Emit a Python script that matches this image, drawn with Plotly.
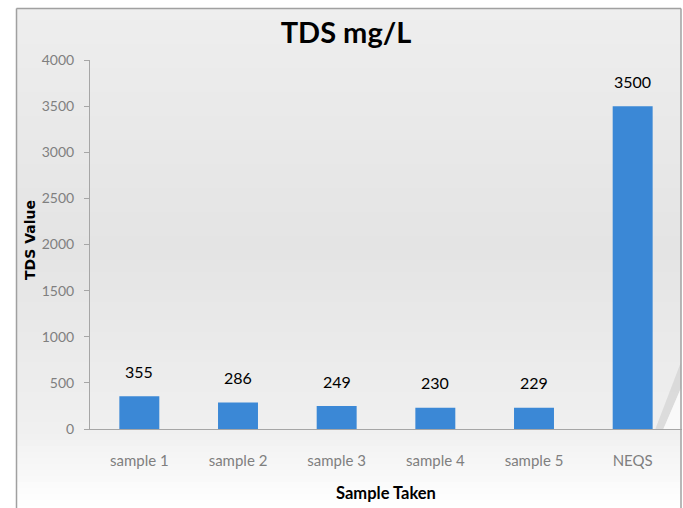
import plotly.graph_objects as go

categories = ["sample 1", "sample 2", "sample 3", "sample 4", "sample 5", "NEQS"]
tds_values = [355, 286, 249, 230, 229, 3500]
y_ticks = [0, 500, 1000, 1500, 2000, 2500, 3000, 3500, 4000]

W, H = 683, 508


def px(x):
    return x / W


def py(y):
    return 1 - y / H


def lerp(c1, c2, t):
    return tuple(int(round(a + (b - a) * t)) for a, b in zip(c1, c2))


# background gradient (vertical bands)
stops = [(8, (238, 238, 238)), (250, (228, 228, 228)), (430, (240, 240, 240)), (508, (255, 255, 255))]
shapes = []
band = 6
y = 8
while y < 508:
    yc = y + band / 2
    for i in range(len(stops) - 1):
        if stops[i][0] <= yc <= stops[i + 1][0]:
            t = (yc - stops[i][0]) / (stops[i + 1][0] - stops[i][0])
            c = lerp(stops[i][1], stops[i + 1][1], t)
            break
    else:
        c = stops[-1][1]
    shapes.append(dict(type="rect", xref="paper", yref="paper", layer="below",
                       x0=px(16), x1=px(681), y0=py(y), y1=py(min(y + band + 0.5, 508)),
                       fillcolor="rgb(%d,%d,%d)" % c, line=dict(width=0)))
    y += band

# page curl shadow at bottom right
shapes.append(dict(type="path", xref="paper", yref="paper", layer="below",
                   path="M %f %f L %f %f L %f %f L %f %f Z" % (
                       px(655), py(430), px(681), py(362), px(681), py(388), px(663), py(430)),
                   fillcolor="rgba(175,175,175,0.3)", line=dict(width=0)))
shapes.append(dict(type="path", xref="paper", yref="paper", layer="below",
                   path="M %f %f L %f %f L %f %f Z" % (
                       px(663), py(430), px(681), py(388), px(681), py(430)),
                   fillcolor="rgba(250,250,250,0.9)", line=dict(width=0)))

# outer border
shapes.append(dict(type="line", xref="paper", yref="paper", layer="above",
                   x0=px(16.5), x1=px(16.5), y0=py(8.5), y1=0,
                   line=dict(color="#a0a0a0", width=1.5)))
shapes.append(dict(type="line", xref="paper", yref="paper", layer="above",
                   x0=px(16.5), x1=px(681), y0=py(8.5), y1=py(8.5),
                   line=dict(color="#a0a0a0", width=1.5)))
shapes.append(dict(type="line", xref="paper", yref="paper", layer="above",
                   x0=px(681), x1=px(681), y0=py(8.5), y1=0,
                   line=dict(color="#a0a0a0", width=1.5)))

fig = go.Figure()
fig.add_trace(go.Bar(
    x=categories, y=tds_values,
    marker=dict(color="#3b88d6", line=dict(width=0)),
    hoverinfo="x+y",
))

annotations = []
for c, v in zip(categories, tds_values):
    annotations.append(dict(x=c, y=v, xref="x", yref="y", text=str(v), showarrow=False,
                            yanchor="middle", yshift=25,
                            font=dict(family="Lato, Open Sans, sans-serif", size=16, color="#000000")))

annotations.append(dict(x=px(30), y=py(240), xref="paper", yref="paper", text="<b>TDS Value</b>",
                        showarrow=False, textangle=-90, xanchor="center", yanchor="middle",
                        font=dict(family="DejaVu Sans, sans-serif", size=14, color="#000000")))

tickfont_family = "Lato, sans-serif"

fig.update_layout(
    width=W, height=H,
    margin=dict(l=0, r=0, t=0, b=0, autoexpand=False),
    paper_bgcolor="white",
    plot_bgcolor="rgba(0,0,0,0)",
    showlegend=False,
    bargap=0.595,
    title=dict(text="<b>TDS mg/L</b>", x=px(346), y=py(33), xref="paper", yref="paper",
               xanchor="center", yanchor="middle", automargin=False,
               font=dict(family="Lato, Open Sans, sans-serif", size=29, color="#000000")),
    xaxis=dict(domain=[px(90), px(682)], automargin=False,
               showline=True, linecolor="#a6a6a6", linewidth=1,
               ticks="", showgrid=False, zeroline=False,
               tickfont=dict(family=tickfont_family, size=15, color="#7f7f7f"),
               ticklabelstandoff=18,
               title=dict(text="<b>Sample Taken</b>", standoff=19,
                          font=dict(family="Lato, Open Sans, sans-serif", size=16.5, color="#000000"))),
    yaxis=dict(domain=[1 - 429 / H, 1 - 60 / H], automargin=False,
               range=[0, 4000], tickvals=y_ticks,
               showline=True, linecolor="#a6a6a6", linewidth=1,
               ticks="outside", ticklen=5, tickcolor="#a6a6a6",
               showgrid=False, zeroline=False,
               tickfont=dict(family=tickfont_family, size=14, color="#7f7f7f"),
               ticklabelstandoff=7),
    shapes=shapes,
    annotations=annotations,
)

fig.write_html("out.html")
